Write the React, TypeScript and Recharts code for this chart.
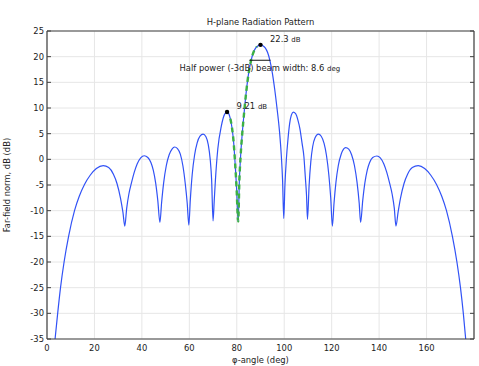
import React from "react";
import {
  CartesianGrid,
  ComposedChart,
  Line,
  ReferenceDot,
  ReferenceLine,
  XAxis,
  YAxis,
} from "recharts";

const FONT = "'DejaVu Sans', sans-serif";
const INK = "#222";
const FRAME = "#404040";

const angleTicks = [0, 20, 40, 60, 80, 100, 120, 140, 160];
const levelTicks = [-35, -30, -25, -20, -15, -10, -5, 0, 5, 10, 15, 20, 25];

// [angle (deg), far-field norm (dB)]
const pattern: [number, number][] = [
  [3.4, -35], [4.5, -30], [5.7, -25], [7.2, -20], [9.1, -15], [11.6, -10],
  [13.6, -7.2], [15.8, -4.9], [18.2, -3.1], [20.8, -1.8], [23.7, -1.24], [26, -1.6],
  [28, -2.9], [29.5, -4.7], [31, -7.6], [32, -10.3], [32.8, -13],
  [33.6, -9.5], [34.5, -6.8], [35.6, -4.6], [36.8, -2.5], [38, -0.9], [39.5, 0.3],
  [41, 0.7], [42.5, 0.35], [43.8, -0.6], [44.8, -2.1], [45.8, -4.6], [46.7, -8], [47.6, -12.3],
  [48.3, -8.5], [49.2, -4.5], [50.3, -1.2], [51.5, 0.9], [52.7, 2.0], [53.8, 2.4],
  [55, 2.1], [56.2, 1], [57.3, -1.3], [58.3, -4.8], [59.1, -8.5], [59.8, -12.8],
  [60.4, -8], [61.2, -3], [62.2, 0.8], [63.3, 3.2], [64.5, 4.5], [65.8, 4.9],
  [67, 4.4], [68, 2.8], [68.8, 0], [69.4, -4], [70, -12],
  [70.5, -8], [71, -4], [72, 2], [73.5, 6.5], [74.9, 8.8], [75.9, 9.21],
  [76.6, 8.9], [77.3, 7.9], [78, 6.1], [78.7, 3.2], [79.3, -0.8], [79.9, -5.5], [80.6, -12.1],
  [81.1, -4], [81.6, 0.5], [82.3, 5], [83, 8.6], [84, 13.2], [85, 16.8], [86, 19.2],
  [87, 20.8], [88, 21.7], [89, 22.15], [90, 22.3], [91, 22.15], [92, 21.7],
  [93, 20.8], [94, 19.2], [95, 16.8], [96, 13.6], [97, 9.8], [98, 5.5], [98.8, 0.5],
  [99.3, -4], [99.8, -11.5],
  [100.3, -5], [100.9, 0], [101.6, 4], [102.3, 7.0], [103, 8.6], [103.8, 9.2],
  [104.8, 8.9], [105.8, 7.6], [106.6, 6], [107.5, 3.2], [108.3, 0.5], [108.9, -3.5],
  [109.4, -7], [109.8, -11.7],
  [110.5, -5], [111.2, -0.5], [112, 2.5], [113, 4.2], [114.4, 4.9], [115.6, 4.5],
  [116.8, 3.1], [117.8, 0.8], [118.8, -3], [119.6, -7.5], [120.3, -13],
  [121, -8.5], [121.8, -4.5], [122.8, -1.2], [124, 1], [125, 2], [125.9, 2.3],
  [127.2, 2], [128.4, 0.9], [129.6, -1.2], [130.7, -4.5], [131.6, -8.5], [132.2, -12.3],
  [133.1, -8], [134, -4.6], [135, -2.1], [136, -0.6], [137.3, 0.35], [139.1, 0.65],
  [140.5, 0.3], [142, -0.9], [143.2, -2.5], [144.4, -4.6], [145.5, -6.8], [146.4, -9.5],
  [147.1, -13],
  [148, -10.3], [149, -7.6], [150.5, -4.7], [152, -2.9], [154, -1.6], [156.5, -1.24],
  [159.2, -1.8], [161.8, -3.1], [164.2, -4.9], [166.4, -7.2], [168.4, -10], [170.9, -15],
  [172.8, -20], [174.3, -25], [175.5, -30], [176.5, -35],
];

// green dashed stretch around the first null left of the main lobe
const highlight: [number, number][] = [
  [77.3, 7.9], [78, 6.1], [78.7, 3.2], [79.3, -0.8], [79.9, -5.5], [80.6, -12.1],
  [81.1, -4], [81.6, 0.5], [82.3, 5], [83, 8.6], [84, 13.2], [85, 16.8], [86, 19.2],
  [87, 20.8], [88, 21.7], [88.5, 21.95],
];

const peaks = [
  { angle: 75.9, level: 9.21, text: "9.21" },
  { angle: 90, level: 22.3, text: "22.3" },
];

const halfPowerSpan = [85.3, 94.2];
const halfPowerLevel = 19.3;
const beamWidth = "8.6";

const toRows = (pts: [number, number][]) =>
  pts.map(([angle, level]) => ({ angle, level }));

const patternRows = toRows(pattern);
const highlightRows = toRows(highlight);

const tickStyle = { fill: INK, fontSize: 8.4, fontFamily: FONT };
const blank = () => "";

function peakLabel(text: string) {
  return (props: any) => {
    const vb = props.viewBox || {};
    const cx = vb.x + (vb.width || 0) / 2;
    const cy = vb.y + (vb.height || 0) / 2;
    return (
      <text
        x={cx + 9.5}
        y={cy - 3}
        fill={INK}
        fontSize={8.4}
        fontFamily={FONT}
      >
        {text} <tspan fontSize={7}>dB</tspan>
      </text>
    );
  };
}

function halfPowerLabel(props: any) {
  const vb = props.viewBox || {};
  const cx = vb.x + (vb.width || 0) / 2;
  return (
    <text
      x={cx}
      y={vb.y + 10.5}
      textAnchor="middle"
      fill={INK}
      fontSize={8.4}
      fontFamily={FONT}
    >
      Half power (-3dB) beam width: {beamWidth} <tspan fontSize={7}>deg</tspan>
    </text>
  );
}

export default function App() {
  return (
    <div
      style={{
        position: "absolute",
        left: 0,
        top: 0,
        width: 479,
        height: 366,
        background: "#fff",
        fontFamily: FONT,
      }}
    >
      <div
        style={{
          position: "absolute",
          left: 47,
          width: 427,
          top: 16,
          lineHeight: "12px",
          textAlign: "center",
          fontSize: 8.4,
          color: INK,
        }}
      >
        H-plane Radiation Pattern
      </div>
      <ComposedChart
        width={479}
        height={366}
        margin={{ top: 31, right: 5, bottom: 0, left: 0 }}
      >
        <CartesianGrid stroke="#e6e6e6" strokeWidth={1} />
        <XAxis
          type="number"
          dataKey="angle"
          domain={[0, 180]}
          ticks={angleTicks}
          interval={0}
          allowDataOverflow
          height={27}
          tickLine={false}
          tickSize={4}
          tickMargin={2}
          axisLine={{ stroke: FRAME, strokeWidth: 1.2 }}
          tick={tickStyle}
          label={{
            value: "φ-angle (deg)",
            position: "insideBottom",
            offset: 3,
            fill: INK,
            fontSize: 8.4,
            fontFamily: FONT,
          }}
        />
        <YAxis
          type="number"
          domain={[-35, 25]}
          ticks={levelTicks}
          interval={0}
          allowDataOverflow
          width={47}
          tickLine={false}
          tickSize={2}
          tickMargin={1}
          axisLine={{ stroke: FRAME, strokeWidth: 1.2 }}
          tick={tickStyle}
          label={{
            value: "Far-field norm, dB (dB)",
            angle: -90,
            position: "insideLeft",
            offset: 7,
            style: { textAnchor: "middle" },
            fill: INK,
            fontSize: 8.4,
            fontFamily: FONT,
          }}
        />
        <XAxis
          xAxisId="top"
          orientation="top"
          type="number"
          domain={[0, 180]}
          ticks={angleTicks}
          interval={0}
          allowDataOverflow
          mirror
          tickSize={4}
          tickLine={{ stroke: FRAME }}
          axisLine={{ stroke: FRAME, strokeWidth: 1.2 }}
          tickFormatter={blank}
        />
        <XAxis
          xAxisId="bottomIn"
          orientation="bottom"
          type="number"
          domain={[0, 180]}
          ticks={angleTicks}
          interval={0}
          allowDataOverflow
          mirror
          tickSize={4}
          tickLine={{ stroke: FRAME }}
          axisLine={false}
          tickFormatter={blank}
        />
        <YAxis
          yAxisId="right"
          orientation="right"
          type="number"
          domain={[-35, 25]}
          ticks={levelTicks}
          interval={0}
          allowDataOverflow
          mirror
          tickSize={4}
          tickLine={{ stroke: FRAME }}
          axisLine={{ stroke: FRAME, strokeWidth: 1.2 }}
          tickFormatter={blank}
        />
        <YAxis
          yAxisId="leftIn"
          orientation="left"
          type="number"
          domain={[-35, 25]}
          ticks={levelTicks}
          interval={0}
          allowDataOverflow
          mirror
          tickSize={4}
          tickLine={{ stroke: FRAME }}
          axisLine={false}
          tickFormatter={blank}
        />
        <Line
          data={patternRows}
          dataKey="level"
          type="monotone"
          stroke="#3152f6"
          strokeWidth={1.2}
          dot={false}
          isAnimationActive={false}
        />
        <Line
          data={highlightRows}
          dataKey="level"
          type="monotone"
          stroke="#3cb043"
          strokeWidth={2.4}
          strokeDasharray="5 4"
          dot={false}
          isAnimationActive={false}
        />
        <ReferenceLine
          segment={[
            { x: halfPowerSpan[0], y: halfPowerLevel },
            { x: halfPowerSpan[1], y: halfPowerLevel },
          ]}
          stroke="#111"
          strokeWidth={1}
          label={halfPowerLabel}
        />
        {peaks.map((p) => (
          <ReferenceDot
            key={p.text}
            x={p.angle}
            y={p.level}
            r={2.2}
            fill="#000"
            stroke="none"
            label={peakLabel(p.text)}
          />
        ))}
      </ComposedChart>
    </div>
  );
}
